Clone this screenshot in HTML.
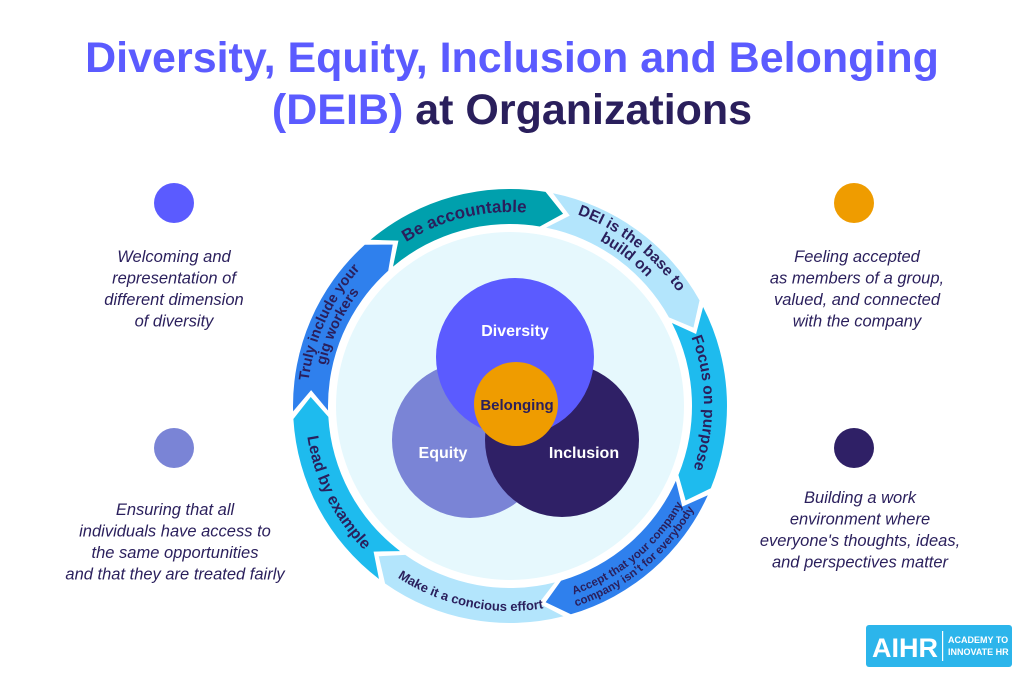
<!DOCTYPE html>
<html><head><meta charset="utf-8"><style>
html,body{margin:0;padding:0;background:#fff;}
svg{display:block;font-family:"Liberation Sans",sans-serif;}
.t{font-weight:bold;fill:#2a1f5c;}
.d{font-style:italic;fill:#2a1f5c;font-size:16.5px;text-anchor:middle;}
</style></head><body>
<svg id="s" width="1024" height="680" viewBox="0 0 1024 680">
<text x="512" y="72" text-anchor="middle" font-size="43" font-weight="bold" fill="#5b5bff">Diversity, Equity, Inclusion and Belonging</text>
<text x="512" y="124" text-anchor="middle" font-size="43" font-weight="bold" fill="#2a1f5c"><tspan fill="#5b5bff">(DEIB)</tspan> at Organizations</text>

<circle cx="174" cy="203" r="20" fill="#5b5bff"/>
<circle cx="174" cy="448" r="20" fill="#7a84d6"/>
<circle cx="854" cy="203" r="20" fill="#ef9c00"/>
<circle cx="854" cy="448" r="20" fill="#2f2066"/>
<text class="d"><tspan x="174" y="262">Welcoming and</tspan><tspan x="174" y="283.5">representation of</tspan><tspan x="174" y="305">different dimension</tspan><tspan x="174" y="326.5">of diversity</tspan></text>
<text class="d"><tspan x="175" y="515">Ensuring that all</tspan><tspan x="175" y="536.5">individuals have access to</tspan><tspan x="175" y="558">the same opportunities</tspan><tspan x="175" y="579.5">and that they are treated fairly</tspan></text>
<text class="d"><tspan x="857" y="262">Feeling accepted</tspan><tspan x="857" y="283.5">as members of a group,</tspan><tspan x="857" y="305">valued, and connected</tspan><tspan x="857" y="326.5">with the company</tspan></text>
<text class="d"><tspan x="860" y="503">Building a work</tspan><tspan x="860" y="524.5">environment where</tspan><tspan x="860" y="546">everyone's thoughts, ideas,</tspan><tspan x="860" y="567.5">and perspectives matter</tspan></text>

<circle cx="510" cy="406" r="174" fill="#e6f8fd"/>
<g id="segs"></g>
<defs id="defs"></defs>

<circle cx="470" cy="440" r="78" fill="#7a84d6"/>
<circle cx="562" cy="440" r="77" fill="#2f2066"/>
<circle cx="515" cy="357" r="79" fill="#5b5bff"/>
<circle cx="516" cy="404" r="42" fill="#ef9c00"/>
<text x="515" y="336" text-anchor="middle" font-size="16" font-weight="bold" fill="#fff">Diversity</text>
<text x="443" y="458" text-anchor="middle" font-size="16" font-weight="bold" fill="#fff">Equity</text>
<text x="584" y="458" text-anchor="middle" font-size="16" font-weight="bold" fill="#fff">Inclusion</text>
<text x="517" y="410" text-anchor="middle" font-size="15" font-weight="bold" fill="#2a1f5c">Belonging</text>

<text class="t" font-size="17"><textPath href="#p0" startOffset="50%" text-anchor="middle">Be accountable</textPath></text>
<text class="t" font-size="15.5"><textPath href="#p1a" startOffset="50%" text-anchor="middle">DEI is the base to</textPath></text>
<text class="t" font-size="15.5"><textPath href="#p1b" startOffset="50%" text-anchor="middle">build on</textPath></text>
<text class="t" font-size="15.5"><textPath href="#p2" startOffset="50%" text-anchor="middle">Focus on purpose</textPath></text>
<text class="t" font-size="11.5"><textPath href="#p3a" startOffset="50%" text-anchor="middle">Accept that your company</textPath></text>
<text class="t" font-size="11.5"><textPath href="#p3b" startOffset="50%" text-anchor="middle">company isn’t for everybody</textPath></text>
<text class="t" font-size="13"><textPath href="#p4" startOffset="50%" text-anchor="middle">Make it a concious effort</textPath></text>
<text class="t" font-size="16"><textPath href="#p5" startOffset="50%" text-anchor="middle">Lead by example</textPath></text>
<text class="t" font-size="14.5"><textPath href="#p6a" startOffset="50%" text-anchor="middle">Truly include your</textPath></text>
<text class="t" font-size="14.5"><textPath href="#p6b" startOffset="50%" text-anchor="middle">gig workers</textPath></text>

<rect x="866" y="625" width="146" height="42" rx="3" fill="#2cb5eb"/>
<text x="872" y="657" font-size="27" font-weight="bold" fill="#fff" textLength="66" lengthAdjust="spacingAndGlyphs">AIHR</text>
<rect x="942" y="631" width="1.2" height="30" fill="#fff"/>
<text font-size="9" font-weight="bold" fill="#fff"><tspan x="948" y="643">ACADEMY TO</tspan><tspan x="948" y="655">INNOVATE HR</tspan></text>
</svg>
<script>
var cx=510,cy=406,R=217,r=182,rm=199.5,N="http://www.w3.org/2000/svg";
function P(a,rr){a=a*Math.PI/180;return (cx+rr*Math.sin(a)).toFixed(2)+","+(cy-rr*Math.cos(a)).toFixed(2);}
var cols=["#00a0ad","#b3e5fc","#1ebbee","#2f80ed","#b3e5fc","#1ebbee","#2f80ed"];
var g=document.getElementById("segs"),defs=document.getElementById("defs");
var step=360/7,gap=2,tip=6;
var A=[];
for(var i=0;i<7;i++){
 var a0=-41+i*step+gap/2,a1=a0+step-gap;A.push([a0,a1]);
 var d="M"+P(a0,R)+" A"+R+","+R+" 0 0 1 "+P(a1,R)+" L"+P(a1+tip,rm)+" L"+P(a1,r)+" A"+r+","+r+" 0 0 0 "+P(a0,r)+" L"+P(a0+tip,rm)+" Z";
 var p=document.createElementNS(N,"path");p.setAttribute("d",d);p.setAttribute("fill",cols[i]);g.appendChild(p);
}
function arc(id,i,rr,ccw){
 var a0=A[i][0]+0,a1=A[i][1]+3,d;
 if(!ccw)d="M"+P(a0,rr)+" A"+rr+","+rr+" 0 0 1 "+P(a1,rr);
 else d="M"+P(a1,rr)+" A"+rr+","+rr+" 0 0 0 "+P(a0,rr);
 var p=document.createElementNS(N,"path");p.setAttribute("id",id);p.setAttribute("d",d);p.setAttribute("fill","none");defs.appendChild(p);
}
arc("p0",0,194,0);
arc("p1a",1,203,0);arc("p1b",1,188,0);
arc("p2",2,194,0);
arc("p3a",3,199,1);arc("p3b",3,211,1);
arc("p4",4,205,1);
arc("p5",5,205,1);
arc("p6a",6,203,0);arc("p6b",6,189,0);
</script>
</body></html>
